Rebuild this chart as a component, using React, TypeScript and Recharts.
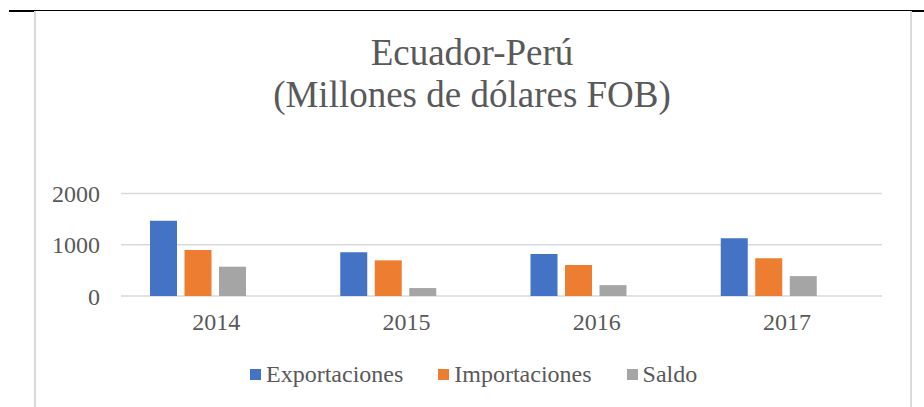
import { Bar, BarChart, CartesianGrid, XAxis, YAxis } from "recharts";

const years = ["2014", "2015", "2016", "2017"];
const exportaciones = [1470, 853, 820, 1126];
const importaciones = [898, 696, 605, 735];
const saldo = [572, 155, 212, 388];
const yTicks = [0, 1000, 2000];

const seriesNames = ["Exportaciones", "Importaciones", "Saldo"];
const seriesColors = ["#4472C4", "#ED7D31", "#A5A5A5"];

const data = years.map((year, i) => ({
  year,
  exportaciones: exportaciones[i],
  importaciones: importaciones[i],
  saldo: saldo[i],
}));

const FONT = '"Liberation Serif", "Times New Roman", serif';
const TEXT = "#595959";

export default function App() {
  return (
    <div style={{ position: "absolute", left: 0, top: 0, width: 924, height: 407, background: "#fff", fontFamily: FONT }}>
      {/* table border + frame */}
      <div style={{ position: "absolute", left: 9, top: 10, width: 915, height: 1, background: "#000" }} />
      <div style={{ position: "absolute", left: 9, top: 11, width: 25, height: 1, background: "#000" }} />
      <div style={{ position: "absolute", left: 911, top: 11, width: 13, height: 1, background: "#000" }} />
      <div style={{ position: "absolute", left: 34, top: 11, width: 2, height: 396, background: "#d9d9d9" }} />
      <div style={{ position: "absolute", left: 910, top: 11, width: 2, height: 396, background: "#d9d9d9" }} />

      <div
        style={{
          position: "absolute",
          left: 0,
          top: 31.5,
          width: 944,
          textAlign: "center",
          fontSize: 37,
          lineHeight: "42px",
          color: TEXT,
        }}
      >
        <div>Ecuador-Perú</div>
        <div>(Millones de dólares FOB)</div>
      </div>

      <div style={{ position: "absolute", left: 0, top: 0 }}>
        <BarChart
          width={924}
          height={407}
          data={data}
          margin={{ top: 193.5, right: 42, left: 61, bottom: 81 }}
          barSize={27}
          barGap={7.5}
        >
          <CartesianGrid vertical={false} stroke="#d9d9d9" strokeWidth={1.5} />
          <XAxis
            dataKey="year"
            height={30}
            axisLine={false}
            tickLine={false}
            tickSize={6}
            tickMargin={11}
            tick={{ fill: TEXT, fontSize: 24, fontFamily: FONT }}
          />
          <XAxis xAxisId="bars" dataKey="year" hide padding={{ left: -18, right: 18 }} />
          <YAxis
            width={60}
            domain={[0, 2000]}
            ticks={yTicks}
            axisLine={false}
            tickLine={false}
            tickSize={6}
            tickMargin={15}
            tick={{ fill: TEXT, fontSize: 24, fontFamily: FONT }}
          />
          <Bar xAxisId="bars" dataKey="exportaciones" name={seriesNames[0]} fill={seriesColors[0]} isAnimationActive={false} />
          <Bar xAxisId="bars" dataKey="importaciones" name={seriesNames[1]} fill={seriesColors[1]} isAnimationActive={false} />
          <Bar xAxisId="bars" dataKey="saldo" name={seriesNames[2]} fill={seriesColors[2]} isAnimationActive={false} />
        </BarChart>
      </div>

      <div
        style={{
          position: "absolute",
          left: 250,
          top: 361.4,
          display: "flex",
          alignItems: "center",
          fontSize: 24,
          lineHeight: "26px",
          color: TEXT,
          whiteSpace: "nowrap",
        }}
      >
        {seriesNames.map((name, i) => (
          <div key={name} style={{ display: "flex", alignItems: "center", marginRight: 35 }}>
            <span style={{ display: "inline-block", width: 11, height: 11, background: seriesColors[i], marginRight: 5 }} />
            <span>{name}</span>
          </div>
        ))}
      </div>
    </div>
  );
}
